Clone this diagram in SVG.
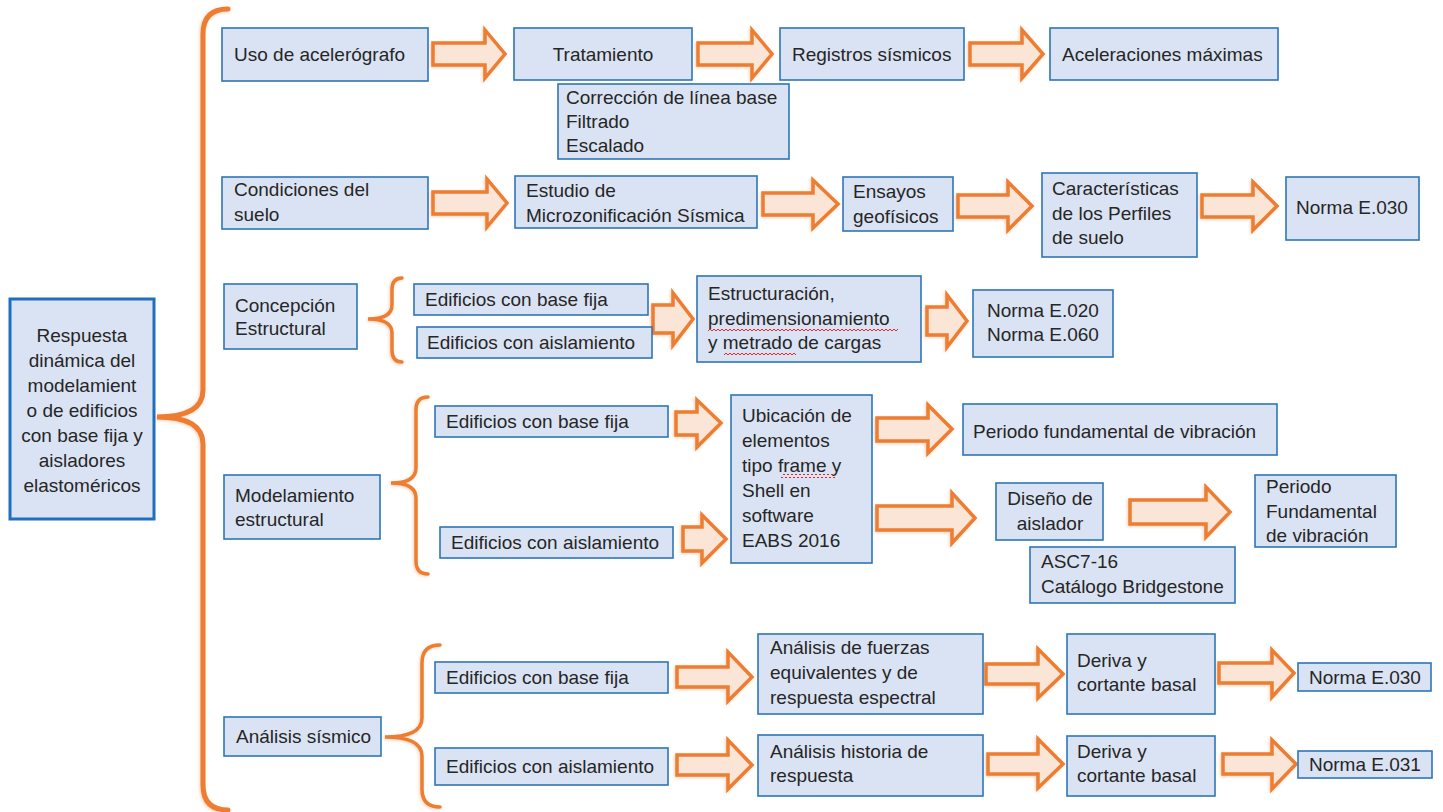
<svg xmlns="http://www.w3.org/2000/svg" width="1443" height="812" viewBox="0 0 1443 812">
<defs>
<style>
.t{font-family:"Liberation Sans",Arial,sans-serif;font-size:19px;fill:#262626}
.c{text-anchor:middle}
.b{fill:#DAE3F3;stroke:#2E75B6;stroke-width:1.6}
.bm{fill:#DAE3F3;stroke:#1F6FBF;stroke-width:3}
.arr{fill:#FBE5D6;stroke:#ED7D31;stroke-width:3.5;stroke-linejoin:miter}
.br{fill:none;stroke:#ED7D31;stroke-width:3.5;stroke-linecap:round}
.brm{fill:none;stroke:#ED7D31;stroke-width:5;stroke-linecap:round}
</style>
<pattern id="sq" x="0" y="0" width="4" height="4" patternUnits="userSpaceOnUse"><path d="M0,3 L2,1 L4,3" fill="none" stroke="#E02828" stroke-width="1"/></pattern>
<filter id="sh" x="-20%" y="-20%" width="140%" height="140%"><feDropShadow dx="-1" dy="1" stdDeviation="1.5" flood-color="#ED7D31" flood-opacity="0.35"/></filter>
</defs>
<rect width="1443" height="812" fill="#FFFFFF"/>

<g id="connectors" filter="url(#sh)">
<path class="brm" d="M228,9 Q203,9 203,34 L203,390 Q203,417 157,417 Q203,417 203,444 L203,785 Q203,810 228,810"/>
<path class="br" d="M402,278 Q392,278 392,290 L392,305 Q392,319 368,319 Q392,319 392,333 L392,350 Q392,362 402,362"/>
<path class="br" d="M428,397 Q416,397 416,410 L416,468 Q416,483 391,483 Q416,483 416,498 L416,561 Q416,574 428,574"/>
<path class="br" d="M440,645 Q422,645 422,663 L422,718 Q422,737 385,737 Q422,737 422,756 L422,789 Q422,807 440,807"/>
<path class="arr" d="M433,43 L485,43 L485,30 L505,54 L485,78 L485,65 L433,65 Z"/>
<path class="arr" d="M698,43 L752,43 L752,30 L772,54 L752,78 L752,65 L698,65 Z"/>
<path class="arr" d="M970,43 L1022,43 L1022,30 L1043,54 L1022,78 L1022,65 L970,65 Z"/>
<path class="arr" d="M433,192 L487,192 L487,179 L507,203 L487,227 L487,214 L433,214 Z"/>
<path class="arr" d="M763,193 L813,193 L813,180 L838,204 L813,228 L813,215 L763,215 Z"/>
<path class="arr" d="M958,195 L1008,195 L1008,182 L1032,206 L1008,230 L1008,217 L958,217 Z"/>
<path class="arr" d="M1202,195 L1253,195 L1253,182 L1277,206 L1253,230 L1253,217 L1202,217 Z"/>
<path class="arr" d="M653,305 L673,305 L673,293 L693,319 L673,345 L673,333 L653,333 Z"/>
<path class="arr" d="M927,307 L947,307 L947,295 L967,321 L947,347 L947,335 L927,335 Z"/>
<path class="arr" d="M676,412 L697,412 L697,400 L721,423 L697,447 L697,435 L676,435 Z"/>
<path class="arr" d="M683,527 L702,527 L702,515 L726,539 L702,563 L702,551 L683,551 Z"/>
<path class="arr" d="M877,418 L928,418 L928,405 L952,429 L928,453 L928,441 L877,441 Z"/>
<path class="arr" d="M877,506 L952,506 L952,493 L975,518 L952,543 L952,530 L877,530 Z"/>
<path class="arr" d="M1130,500 L1206,500 L1206,487 L1230,512 L1206,537 L1206,524 L1130,524 Z"/>
<path class="arr" d="M677,667 L728,667 L728,652 L752,677 L728,701 L728,687 L677,687 Z"/>
<path class="arr" d="M986,664 L1038,664 L1038,649 L1063,674 L1038,698 L1038,684 L986,684 Z"/>
<path class="arr" d="M1219,663 L1272,663 L1272,650 L1294,673 L1272,697 L1272,683 L1219,683 Z"/>
<path class="arr" d="M677,755 L728,755 L728,740 L752,765 L728,789 L728,775 L677,775 Z"/>
<path class="arr" d="M988,754 L1038,754 L1038,739 L1063,764 L1038,788 L1038,774 L988,774 Z"/>
<path class="arr" d="M1223,754 L1272,754 L1272,740 L1296,764 L1272,789 L1272,774 L1223,774 Z"/>
</g>

<g id="n-main"><rect class="bm" x="10" y="299" width="144" height="220"/>
<text class="t c" x="82" y="342">Respuesta</text><text class="t c" x="82" y="367">dinámica del</text><text class="t c" x="82" y="392">modelamient</text><text class="t c" x="82" y="417">o de edificios</text><text class="t c" x="82" y="442">con base fija y</text><text class="t c" x="82" y="467">aisladores</text><text class="t c" x="82" y="492">elastoméricos</text></g>

<g id="n-uso"><rect class="b" x="222" y="28" width="206" height="53"/><text class="t" x="234" y="61">Uso de acelerógrafo</text></g>
<g id="n-tratamiento"><rect class="b" x="514" y="28" width="178" height="52"/><text class="t c" x="603" y="61">Tratamiento</text></g>
<g id="n-registros"><rect class="b" x="780" y="28" width="184" height="52"/><text class="t" x="792" y="61">Registros sísmicos</text></g>
<g id="n-aceleraciones"><rect class="b" x="1050" y="28" width="228" height="52"/><text class="t" x="1062" y="61">Aceleraciones máximas</text></g>
<g id="n-correccion"><rect class="b" x="558" y="84" width="231" height="75"/><text class="t" x="566" y="104">Corrección de línea base</text><text class="t" x="566" y="128">Filtrado</text><text class="t" x="566" y="152">Escalado</text></g>

<g id="n-condiciones"><rect class="b" x="222" y="177" width="206" height="52"/><text class="t" x="234" y="196">Condiciones del</text><text class="t" x="234" y="221">suelo</text></g>
<g id="n-estudio"><rect class="b" x="515" y="176" width="242" height="52"/><text class="t" x="526" y="197">Estudio de</text><text class="t" x="526" y="222">Microzonificación Sísmica</text></g>
<g id="n-ensayos"><rect class="b" x="843" y="177" width="110" height="54"/><text class="t" x="853" y="198">Ensayos</text><text class="t" x="853" y="223">geofísicos</text></g>
<g id="n-caracteristicas"><rect class="b" x="1042" y="173" width="155" height="84"/><text class="t" x="1052" y="195">Características</text><text class="t" x="1052" y="220">de los Perfiles</text><text class="t" x="1052" y="244">de suelo</text></g>
<g id="n-norma030a"><rect class="b" x="1286" y="177" width="133" height="63"/><text class="t" x="1296" y="214">Norma E.030</text></g>

<g id="n-concepcion"><rect class="b" x="224" y="284" width="133" height="65"/><text class="t" x="235" y="312">Concepción</text><text class="t" x="235" y="335">Estructural</text></g>
<g id="n-c-basefija"><rect class="b" x="414" y="284" width="234" height="31"/><text class="t" x="425" y="306">Edificios con base fija</text></g>
<g id="n-c-aislamiento"><rect class="b" x="417" y="327" width="235" height="31"/><text class="t" x="427" y="349">Edificios con aislamiento</text></g>
<g id="n-estructuracion"><rect class="b" x="697" y="276" width="224" height="86"/><text class="t" x="708" y="300">Estructuración,</text><text class="t" x="708" y="325">predimensionamiento</text><text class="t" x="708" y="349">y metrado de cargas</text>
<rect x="708" y="328" width="190" height="4" fill="url(#sq)"/><rect x="724" y="352" width="72" height="4" fill="url(#sq)"/></g>
<g id="n-norma020"><rect class="b" x="973" y="290" width="140" height="67"/><text class="t" x="987" y="317">Norma E.020</text><text class="t" x="987" y="341">Norma E.060</text></g>

<g id="n-modelamiento"><rect class="b" x="224" y="475" width="156" height="64"/><text class="t" x="235" y="502">Modelamiento</text><text class="t" x="235" y="526">estructural</text></g>
<g id="n-m-basefija"><rect class="b" x="435" y="406" width="233" height="31"/><text class="t" x="446" y="428">Edificios con base fija</text></g>
<g id="n-m-aislamiento"><rect class="b" x="440" y="527" width="233" height="31"/><text class="t" x="451" y="549">Edificios con aislamiento</text></g>
<g id="n-ubicacion"><rect class="b" x="731" y="395" width="141" height="168"/><text class="t" x="742" y="422">Ubicación de</text><text class="t" x="742" y="447">elementos</text><text class="t" x="742" y="472">tipo frame y</text><text class="t" x="742" y="497">Shell en</text><text class="t" x="742" y="522">software</text><text class="t" x="742" y="547">EABS 2016</text>
<rect x="781" y="474" width="54" height="4" fill="url(#sq)"/></g>
<g id="n-periodo1"><rect class="b" x="963" y="404" width="314" height="51"/><text class="t" x="973" y="438">Periodo fundamental de vibración</text></g>
<g id="n-diseno"><rect class="b" x="996" y="483" width="107" height="57"/><text class="t c" x="1050" y="505">Diseño de</text><text class="t c" x="1050" y="530">aislador</text></g>
<g id="n-asc"><rect class="b" x="1030" y="547" width="205" height="56"/><text class="t" x="1041" y="568">ASC7-16</text><text class="t" x="1041" y="593">Catálogo Bridgestone</text></g>
<g id="n-periodo2"><rect class="b" x="1255" y="475" width="141" height="72"/><text class="t" x="1266" y="493">Periodo</text><text class="t" x="1266" y="518">Fundamental</text><text class="t" x="1266" y="542">de vibración</text></g>

<g id="n-analisis"><rect class="b" x="224" y="717" width="157" height="39"/><text class="t" x="236" y="743">Análisis sísmico</text></g>
<g id="n-a-basefija"><rect class="b" x="435" y="662" width="233" height="31"/><text class="t" x="446" y="684">Edificios con base fija</text></g>
<g id="n-a-aislamiento"><rect class="b" x="435" y="748" width="233" height="37"/><text class="t" x="446" y="773">Edificios con aislamiento</text></g>
<g id="n-fuerzas"><rect class="b" x="758" y="634" width="225" height="80"/><text class="t" x="770" y="654">Análisis de fuerzas</text><text class="t" x="770" y="679">equivalentes y de</text><text class="t" x="770" y="704">respuesta espectral</text></g>
<g id="n-deriva1"><rect class="b" x="1067" y="634" width="148" height="80"/><text class="t" x="1077" y="667">Deriva y</text><text class="t" x="1077" y="691">cortante basal</text></g>
<g id="n-norma030b"><rect class="b" x="1298" y="663" width="133" height="28"/><text class="t" x="1309" y="684">Norma E.030</text></g>
<g id="n-historia"><rect class="b" x="758" y="735" width="225" height="61"/><text class="t" x="770" y="758">Análisis historia de</text><text class="t" x="770" y="782">respuesta</text></g>
<g id="n-deriva2"><rect class="b" x="1067" y="736" width="148" height="60"/><text class="t" x="1077" y="758">Deriva y</text><text class="t" x="1077" y="782">cortante basal</text></g>
<g id="n-norma031"><rect class="b" x="1298" y="751" width="134" height="27"/><text class="t" x="1309" y="771">Norma E.031</text></g>
</svg>
